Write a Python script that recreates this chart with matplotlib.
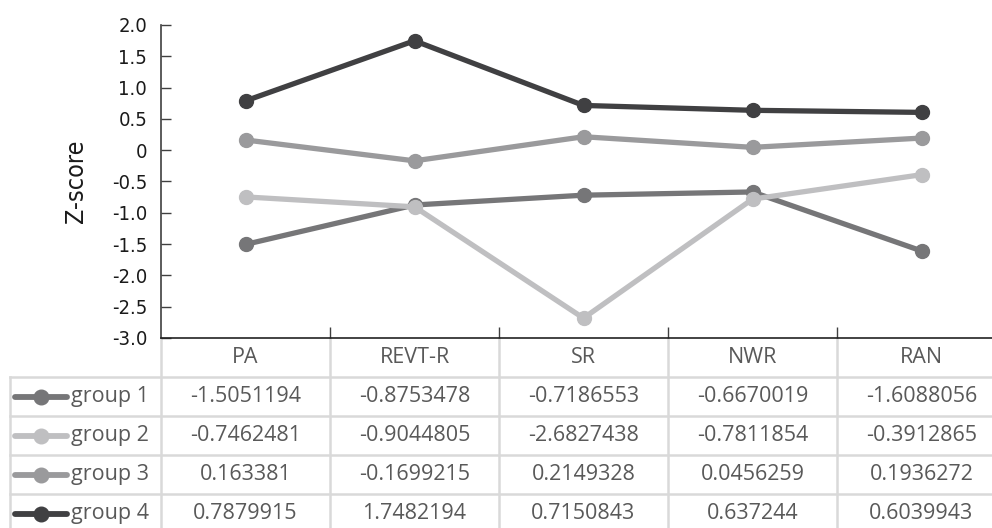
import matplotlib
matplotlib.use("Agg")
import matplotlib.pyplot as plt
from matplotlib import font_manager

categories = ["PA", "REVT-R", "SR", "NWR", "RAN"]
group_names = ["group 1", "group 2", "group 3", "group 4"]
group1 = [-1.5051194, -0.8753478, -0.7186553, -0.6670019, -1.6088056]
group2 = [-0.7462481, -0.9044805, -2.6827438, -0.7811854, -0.3912865]
group3 = [0.163381, -0.1699215, 0.2149328, 0.0456259, 0.1936272]
group4 = [0.7879915, 1.7482194, 0.7150843, 0.637244, 0.6039943]
value_text = [
    ["-1.5051194", "-0.8753478", "-0.7186553", "-0.6670019", "-1.6088056"],
    ["-0.7462481", "-0.9044805", "-2.6827438", "-0.7811854", "-0.3912865"],
    ["0.163381", "-0.1699215", "0.2149328", "0.0456259", "0.1936272"],
    ["0.7879915", "1.7482194", "0.7150843", "0.637244", "0.6039943"],
]
yticks = [-3.0, -2.5, -2.0, -1.5, -1.0, -0.5, 0.0, 0.5, 1.0, 1.5, 2.0]
colors = ["#767678", "#bfbfc1", "#9a9a9c", "#404042"]

# narrow regular font for the axis, if there is one
narrow = None
best = 99
for f in font_manager.fontManager.ttflist:
    if f.style != "normal" or f.weight not in (400, "normal", "regular"):
        continue
    if f.stretch in ("condensed", "semi-condensed", 75, 87.5) or "Narrow" in f.name:
        rank = 0 if "Liberation" in f.name else (1 if "DejaVu" in f.name else 2)
        if rank < best:
            best, narrow = rank, f.fname
if narrow:
    nprop = font_manager.FontProperties(fname=narrow)
else:
    nprop = font_manager.FontProperties(family="DejaVu Sans")

W, H = 992, 528
fig = plt.figure(figsize=(W / 100, H / 100), dpi=100)
# axes runs past the right edge, as in the original
ax = fig.add_axes([161 / W, (H - 338) / H, (1006 - 161) / W, (338 - 25) / H])

x = list(range(len(categories)))
for vals, c in zip([group1, group2, group3, group4], colors):
    ax.plot(x, vals, color=c, lw=3.8, marker="o", ms=10, solid_capstyle="round")

ax.set_xlim(-0.5, len(categories) - 0.5)
ax.set_ylim(-3, 2)
ax.set_yticks(yticks)
ax.set_yticklabels(["0" if v == 0 else "%.1f" % v for v in yticks],
                   fontproperties=nprop, fontsize=14.5, color="#1a1a1a")
ax.tick_params(axis="y", direction="in", length=7, width=1, color="#404040", pad=10)
ax.set_xticks([i - 0.5 for i in range(1, len(categories))])
ax.set_xticklabels([])
ax.tick_params(axis="x", direction="in", length=8, width=1, color="#404040")
for s in ["top", "right"]:
    ax.spines[s].set_visible(False)
ax.spines["left"].set_color("#404040")
ax.spines["bottom"].set_color("#222222")
ax.spines["left"].set_linewidth(1.2)
ax.spines["bottom"].set_linewidth(1.2)
ax.set_ylabel("Z-score", fontproperties=nprop, fontsize=18, color="#1a1a1a")
ax.yaxis.set_label_coords(-0.086, 0.5)

# data table under the plot
row_h = 39 / 313
grid = "#d9d9d9"
txt = "#595959"
tfont = ["Open Sans", "DejaVu Sans"]
fs = 15.5
n = len(categories)
tr = ax.get_xaxis_transform()
left_x = -0.5 - (161 - 10) / 169
# header row
for i, cat in enumerate(categories):
    ax.text(i, -row_h * 0.5, cat, transform=tr, ha="center",
            va="center", fontsize=fs, color=txt, family=tfont, clip_on=False)
# horizontal lines
for r in range(1, len(group_names) + 2):
    ax.plot([left_x, n - 0.5], [-row_h * r] * 2, transform=tr,
            color=grid, lw=1.8, clip_on=False)
# vertical lines
for i in range(n):
    ax.plot([i - 0.5] * 2, [0, -row_h * (len(group_names) + 1.2)],
            transform=tr, color=grid, lw=1.8, clip_on=False, zorder=0)
ax.plot([left_x] * 2, [-row_h, -row_h * (len(group_names) + 1.2)],
        transform=tr, color=grid, lw=1.8, clip_on=False)
# rows
for r, (name, c) in enumerate(zip(group_names, colors)):
    yc = -row_h * (r + 1.5)
    ax.plot([-0.5 - 146 / 169, -0.5 - 94 / 169], [yc, yc], transform=tr,
            color=c, lw=4.2, clip_on=False, solid_capstyle="round")
    ax.plot([-0.5 - 120 / 169], [yc], transform=tr, color=c,
            marker="o", ms=10.5, clip_on=False)
    ax.text(-0.5 - 90 / 169, yc, name, transform=tr, ha="left",
            va="center", fontsize=fs, color=txt, family=tfont, clip_on=False)
    for i in range(n):
        ax.text(i, yc, value_text[r][i], transform=tr, ha="center",
                va="center", fontsize=fs, color=txt, family=tfont, clip_on=False)

fig.savefig("out.png", dpi=100)
